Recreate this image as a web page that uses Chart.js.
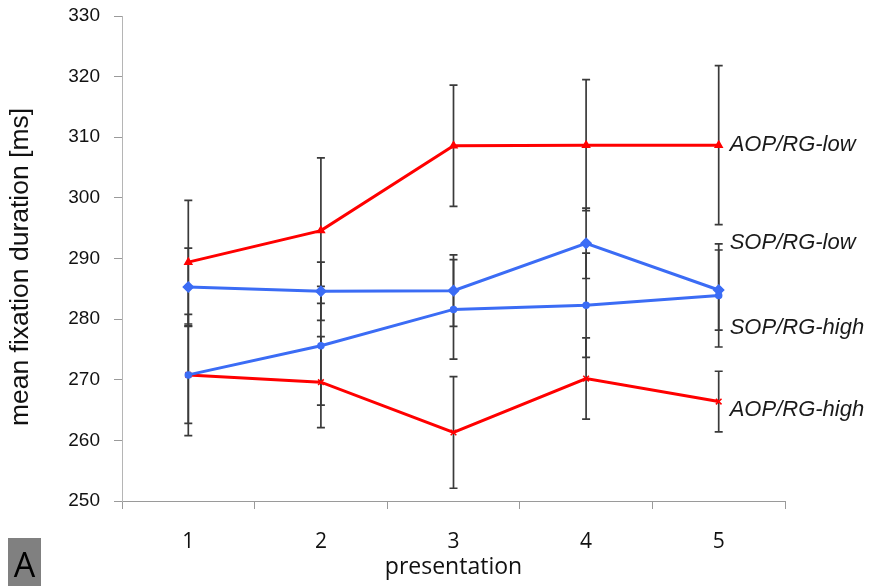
<!DOCTYPE html>
<html>
<head>
<meta charset="utf-8">
<script src="https://cdn.jsdelivr.net/npm/chart.js@4/dist/chart.umd.min.js"></script>
<style>
  html, body { margin: 0; padding: 0; background: #ffffff; }
  canvas { display: block; }
</style>
</head>
<body>
<canvas id="chart" width="873" height="586"></canvas>
<script>
// Presentation numbers on the x axis
const presentations = ['1', '2', '3', '4', '5'];

// Mean fixation duration (ms) per condition, with error-bar half widths
const aopLow = [289.4, 294.6, 308.6, 308.7, 308.7];
const aopLowErr = [10.2, 12.0, 10.0, 10.8, 13.1];
const sopLow = [285.3, 284.6, 284.7, 292.5, 284.8];
const sopLowErr = [6.4, 4.8, 5.9, 5.8, 6.6];
const sopHigh = [270.8, 275.6, 281.6, 282.3, 283.9];
const sopHighErr = [8.0, 9.8, 8.2, 8.6, 8.5];
const aopHigh = [270.8, 269.6, 261.3, 270.2, 266.4];
const aopHighErr = [10.0, 7.5, 9.2, 6.7, 5.0];

// Condition names written at the right end of each line, and the level they sit at
const seriesNames = ['AOP/RG-low', 'SOP/RG-low', 'SOP/RG-high', 'AOP/RG-high'];
const nameLevels = [308.7, 292.6, 278.6, 265.1];

// Y axis range and title
const yMin = 250;
const yMax = 330;
const yStep = 10;
const yTitle = 'mean fixation duration [ms]';

const RED = '#ff0000';
const BLUE = '#3b6cf5';

const errorSets = [aopLowErr, sopLowErr, sopHighErr, aopHighErr];

const errorBars = {
  id: 'errorBars',
  beforeDatasetsDraw(chart) {
    const { ctx, scales: { x, y } } = chart;
    ctx.save();
    ctx.strokeStyle = '#3a3a3a';
    ctx.lineWidth = 1.7;
    chart.data.datasets.forEach((ds, si) => {
      const errs = errorSets[si];
      ds.data.forEach((v, i) => {
        const px = x.getPixelForValue(i);
        const top = y.getPixelForValue(v + errs[i]);
        const bot = y.getPixelForValue(v - errs[i]);
        ctx.beginPath();
        ctx.moveTo(px, top);
        ctx.lineTo(px, bot);
        ctx.moveTo(px - 4, top);
        ctx.lineTo(px + 4, top);
        ctx.moveTo(px - 4, bot);
        ctx.lineTo(px + 4, bot);
        ctx.stroke();
      });
    });
    ctx.restore();
  }
};

const endNames = {
  id: 'endNames',
  afterDatasetsDraw(chart) {
    const { ctx, scales: { x, y } } = chart;
    ctx.save();
    ctx.font = 'italic 22px "Liberation Sans", Arial, sans-serif';
    ctx.fillStyle = '#1a1a1a';
    ctx.textAlign = 'left';
    ctx.textBaseline = 'middle';
    const xr = x.getPixelForValue(presentations.length - 1) + 11;
    seriesNames.forEach((name, i) => {
      ctx.fillText(name, xr, y.getPixelForValue(nameLevels[i]));
    });
    ctx.restore();
  }
};

// Rotated y-axis title, sitting a little below the axis midpoint
const sideTitle = {
  id: 'sideTitle',
  afterDraw(chart) {
    const { ctx } = chart;
    ctx.save();
    ctx.translate(21, 267);
    ctx.rotate(-Math.PI / 2);
    ctx.font = '26.5px "Liberation Sans", Arial, sans-serif';
    ctx.fillStyle = '#111111';
    ctx.textAlign = 'center';
    ctx.textBaseline = 'middle';
    ctx.fillText(yTitle, 0, 0);
    ctx.restore();
  }
};

const panelTag = {
  id: 'panelTag',
  afterDraw(chart) {
    const { ctx } = chart;
    ctx.save();
    ctx.fillStyle = '#808080';
    ctx.fillRect(8, 538, 33, 48);
    ctx.fillStyle = '#000000';
    ctx.font = '34px "Open Sans", sans-serif';
    ctx.textAlign = 'center';
    ctx.textBaseline = 'alphabetic';
    ctx.fillText('A', 24.5, 577);
    ctx.restore();
  }
};

function lineSet(label, data, color, pointStyle, radius) {
  return {
    label,
    data,
    borderColor: color,
    backgroundColor: color,
    borderWidth: 3,
    pointStyle,
    pointRadius: radius,
    pointBorderWidth: 1.5,
    pointBorderColor: color,
    pointBackgroundColor: color,
    tension: 0,
    fill: false
  };
}

new Chart(document.getElementById('chart'), {
  type: 'line',
  data: {
    labels: presentations,
    datasets: [
      lineSet(seriesNames[0], aopLow, RED, 'triangle', 4),
      lineSet(seriesNames[1], sopLow, BLUE, 'rectRot', 5),
      lineSet(seriesNames[2], sopHigh, BLUE, 'circle', 3),
      lineSet(seriesNames[3], aopHigh, RED, 'crossRot', 4)
    ]
  },
  options: {
    responsive: false,
    animation: false,
    devicePixelRatio: 1,
    layout: { padding: { top: 16, right: 88, left: 0, bottom: 0 } },
    plugins: {
      legend: { display: false },
      tooltip: { enabled: false }
    },
    scales: {
      x: {
        type: 'category',
        offset: true,
        afterFit(scale) {
          scale.height = 85;
          scale.paddingLeft = 0;
          scale.paddingRight = 0;
        },
        grid: {
          offset: true,
          drawOnChartArea: false,
          drawTicks: true,
          tickLength: 8,
          color: '#9a9a9a'
        },
        border: { display: true, color: '#9a9a9a', width: 1 },
        ticks: {
          padding: 20,
          color: '#111111',
          font: { family: '"Open Sans", sans-serif', size: 21 }
        },
        title: {
          display: true,
          text: 'presentation',
          color: '#111111',
          font: { family: '"Open Sans", sans-serif', size: 23 },
          padding: { top: 0, bottom: 5 }
        }
      },
      y: {
        min: yMin,
        max: yMax,
        afterFit(scale) {
          scale.width = 122;
          scale.paddingTop = 0;
          scale.paddingBottom = 0;
        },
        grid: {
          drawOnChartArea: false,
          drawTicks: true,
          tickLength: 8,
          color: '#9a9a9a'
        },
        border: { display: true, color: '#b5b5b5', width: 1 },
        ticks: {
          stepSize: yStep,
          padding: 14,
          color: '#111111',
          font: { family: '"Liberation Sans", Arial, sans-serif', size: 19 }
        },
        title: { display: false }
      }
    }
  },
  plugins: [errorBars, endNames, sideTitle, panelTag]
});
</script>
</body>
</html>
